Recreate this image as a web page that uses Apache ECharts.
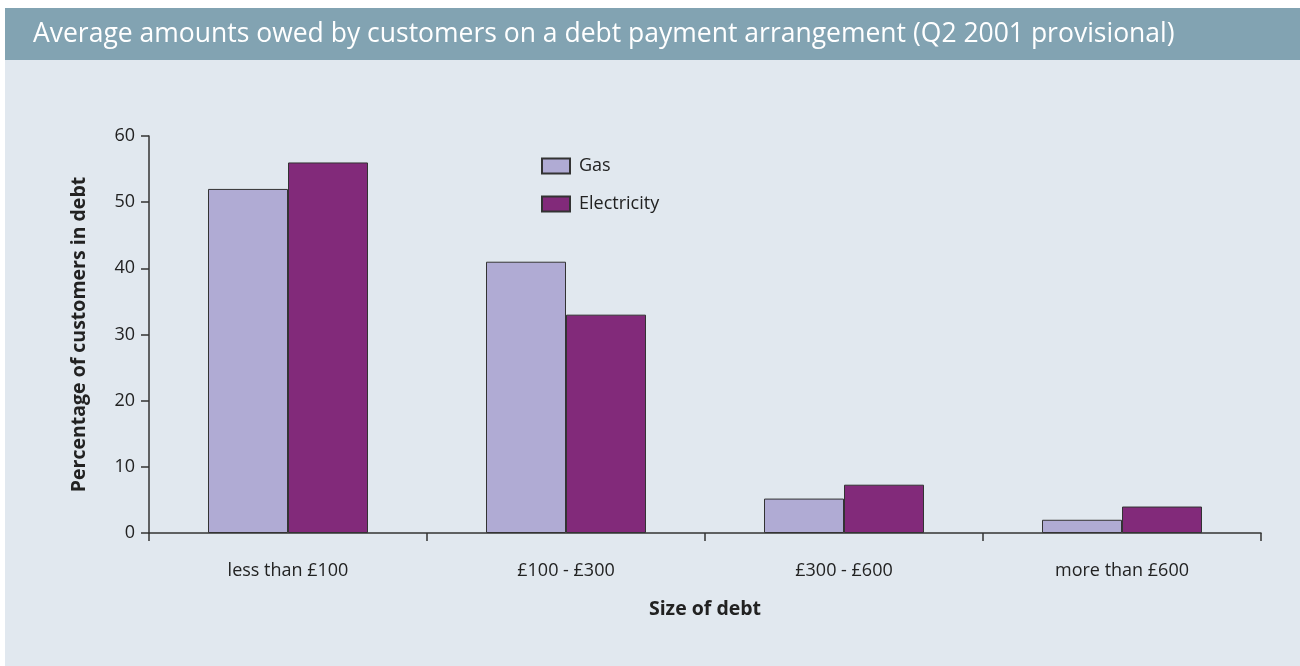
<!DOCTYPE html>
<html>
<head>
<meta charset="utf-8">
<script src="https://cdn.jsdelivr.net/npm/echarts@6/dist/echarts.min.js"></script>
<style>
  html, body { margin: 0; padding: 0; background: #ffffff; }
  #chart { width: 1300px; height: 666px; }
</style>
</head>
<body>
<div id="chart"></div>
<script>
const categories = ['less than £100', '£100 - £300', '£300 - £600', 'more than £600'];
const gasValues = [52, 41, 5.2, 2];
const electricityValues = [56, 33, 7.3, 4];
const yTicks = [0, 10, 20, 30, 40, 50, 60];

const chart = echarts.init(document.getElementById('chart'));
const font = '"Open Sans", Lato, sans-serif';

const option = {
  animation: false,
  textStyle: { fontFamily: font },
  graphic: [
    { type: 'rect', z: -10, shape: { x: 5, y: 8, width: 1295, height: 658 }, style: { fill: '#e1e8ef' } },
    { type: 'rect', z: -9, shape: { x: 5, y: 8, width: 1295, height: 52 }, style: { fill: '#82a3b2' } },
    {
      type: 'text', left: 33, top: 21,
      style: { text: 'Average amounts owed by customers on a debt payment arrangement (Q2 2001 provisional)', fill: '#ffffff', font: '26.5px ' + font }
    }
  ],
  legend: {
    orient: 'vertical',
    left: 536,
    top: 152,
    icon: 'rect',
    itemWidth: 28,
    itemHeight: 15,
    itemGap: 20,
    textStyle: { fontSize: 18, color: '#222', fontFamily: font, padding: [0, 0, 0, 4] },
    data: ['Gas', 'Electricity']
  },
  grid: { left: 149, right: 39, top: 136, bottom: 133 },
  xAxis: {
    type: 'category',
    data: categories,
    name: 'Size of debt',
    nameLocation: 'middle',
    nameGap: 66,
    nameTextStyle: { fontSize: 19.5, fontWeight: 'bold', color: '#222', fontFamily: font },
    axisLine: { lineStyle: { color: '#333', width: 1.5 } },
    axisTick: { show: true, length: 8, lineStyle: { color: '#333', width: 1.5 } },
    axisLabel: { fontSize: 18, color: '#222', margin: 29, fontFamily: font },
    splitLine: { show: false }
  },
  yAxis: {
    type: 'value',
    min: 0,
    max: 60,
    interval: 10,
    name: 'Percentage of customers in debt',
    nameLocation: 'middle',
    nameGap: 60,
    nameTextStyle: { fontSize: 19.5, fontWeight: 'bold', color: '#222', fontFamily: font },
    axisLine: { show: true, lineStyle: { color: '#333', width: 1.5 } },
    axisTick: { show: true, length: 8, lineStyle: { color: '#333', width: 1.5 } },
    axisLabel: {
      fontSize: 18, color: '#222', margin: 14, fontFamily: font,
      formatter: v => yTicks.includes(v) ? String(v) : ''
    },
    splitLine: { show: false }
  },
  series: [
    {
      name: 'Gas',
      type: 'bar',
      data: gasValues,
      barWidth: 80,
      barGap: '0%',
      itemStyle: { color: '#b0abd4', borderColor: '#333', borderWidth: 1 }
    },
    {
      name: 'Electricity',
      type: 'bar',
      data: electricityValues,
      barWidth: 80,
      barGap: '0%',
      itemStyle: { color: '#822a7a', borderColor: '#333', borderWidth: 1 }
    }
  ]
};

chart.setOption(option);
</script>
</body>
</html>
